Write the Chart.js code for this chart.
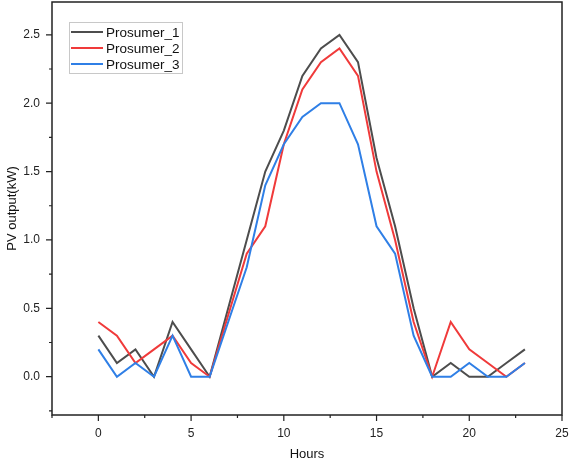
<!DOCTYPE html>
<html>
<head>
<meta charset="utf-8">
<script src="https://cdn.jsdelivr.net/npm/chart.js@4"></script>
<style>
  body { margin: 0; background: #fff; }
  #wrap { width: 569px; height: 462px; }
</style>
</head>
<body>
<div id="wrap"><canvas id="myChart" width="569" height="462"></canvas></div>
<script>
// data
const hours = [0, 1, 2, 3, 4, 5, 6, 7, 8, 9, 10, 11, 12, 13, 14, 15, 16, 17, 18, 19, 20, 21, 22, 23]
const prosumer1 = [0.3, 0.1, 0.2, 0, 0.4, 0.2, 0, 0.5, 1.0, 1.5, 1.8, 2.2, 2.4, 2.5, 2.3, 1.6, 1.1, 0.5, 0, 0.1, 0, 0, 0.1, 0.2]
const prosumer2 = [0.4, 0.3, 0.1, 0.2, 0.3, 0.1, 0, 0.45, 0.9, 1.1, 1.7, 2.1, 2.3, 2.4, 2.2, 1.5, 1.0, 0.4, 0, 0.4, 0.2, 0.1, 0, 0.1]
const prosumer3 = [0.2, 0, 0.1, 0, 0.3, 0, 0, 0.4, 0.8, 1.4, 1.7, 1.9, 2.0, 2.0, 1.7, 1.1, 0.9, 0.3, 0, 0, 0.1, 0, 0, 0.1]
const xTicks = [0, 5, 10, 15, 20, 25]
const yTicks = [0, 0.5, 1.0, 1.5, 2.0, 2.5]

const seriesNames = ['Prosumer_1', 'Prosumer_2', 'Prosumer_3']
const seriesColors = ['#4d4d4d', '#f03a3a', '#2f7fe6']
const seriesValues = [prosumer1, prosumer2, prosumer3]

const font = "'Liberation Sans', Arial, sans-serif"

const toPoints = (vals) => hours.map((h, i) => ({ x: h, y: vals[i] }))

// frame, outward tick marks (major + minor) and the inset legend
const framePlugin = {
    id: 'originFrame',
    afterDraw: (chart) => {
        const { ctx, chartArea: a, scales } = chart
        ctx.save()
        ctx.strokeStyle = '#222'
        ctx.lineWidth = 1.5
        ctx.strokeRect(a.left, a.top, a.right - a.left, a.bottom - a.top)

        ctx.lineWidth = 1.2
        ctx.beginPath()
        for (let v = -2.5; v <= 25.001; v += 2.5) {
            const px = scales.x.getPixelForValue(v)
            const len = (Math.abs(v % 5) < 0.01) ? 6 : 3
            ctx.moveTo(px, a.bottom)
            ctx.lineTo(px, a.bottom + len)
        }
        for (let v = -0.25; v <= 2.75; v += 0.25) {
            if (v < scales.y.min || v > scales.y.max) continue
            const py = scales.y.getPixelForValue(v)
            const len = (Math.abs((v * 2) % 1) < 0.01) ? 6 : 3
            ctx.moveTo(a.left, py)
            ctx.lineTo(a.left - len, py)
        }
        ctx.stroke()

        // legend box
        const bx = 69, by = 22, bw = 113, bh = 51
        ctx.strokeStyle = '#c8c8c8'
        ctx.lineWidth = 1
        ctx.strokeRect(bx + 0.5, by + 0.5, bw, bh)
        ctx.font = '13.5px ' + font
        ctx.textBaseline = 'middle'
        seriesNames.forEach((name, i) => {
            const ry = by + 10 + i * 16
            ctx.strokeStyle = seriesColors[i]
            ctx.lineWidth = 2
            ctx.beginPath()
            ctx.moveTo(bx + 2, ry)
            ctx.lineTo(bx + 34, ry)
            ctx.stroke()
            ctx.fillStyle = '#111'
            ctx.fillText(name, bx + 37, ry + 1)
        })
        ctx.restore()
    }
}

const ctx = document.querySelector('#myChart').getContext('2d')

const myChart = new Chart(ctx, {
    type: 'line',
    data: {
        datasets: seriesNames.map((name, i) => ({
            label: name,
            data: toPoints(seriesValues[i]),
            borderColor: seriesColors[i],
            borderWidth: 2,
            pointRadius: 0,
            tension: 0,
            fill: false
        })).reverse()
    },
    plugins: [framePlugin],
    options: {
        responsive: false,
        animation: false,
        layout: { padding: { top: 2, right: 7, left: 0, bottom: 0 } },
        plugins: {
            legend: { display: false },
            tooltip: { enabled: false }
        },
        scales: {
            x: {
                type: 'linear',
                min: -2.5,
                max: 25,
                grid: { display: false },
                border: { display: false },
                afterBuildTicks: (scale) => { scale.ticks = xTicks.map(v => ({ value: v })) },
                afterFit: (scale) => {
                    scale.height = 47
                    scale.paddingLeft = 0
                    scale.paddingRight = 0
                },
                ticks: {
                    padding: 3,
                    color: '#222',
                    font: { family: font, size: 12 },
                    maxRotation: 0
                },
                title: {
                    display: true,
                    text: 'Hours',
                    color: '#111',
                    font: { family: font, size: 13 },
                    padding: { top: 2, bottom: 0 }
                }
            },
            y: {
                type: 'linear',
                min: -0.28,
                max: 2.74,
                grid: { display: false },
                border: { display: false },
                afterBuildTicks: (scale) => { scale.ticks = yTicks.map(v => ({ value: v })) },
                afterFit: (scale) => {
                    scale.width = 52
                    scale.paddingTop = 0
                    scale.paddingBottom = 0
                },
                ticks: {
                    padding: 4,
                    color: '#222',
                    font: { family: font, size: 12 },
                    callback: (v) => v.toFixed(1)
                },
                title: {
                    display: true,
                    text: 'PV output(kW)',
                    color: '#111',
                    font: { family: font, size: 13 },
                    padding: { top: 5, bottom: 0 }
                }
            }
        }
    }
})
</script>
</body>
</html>
